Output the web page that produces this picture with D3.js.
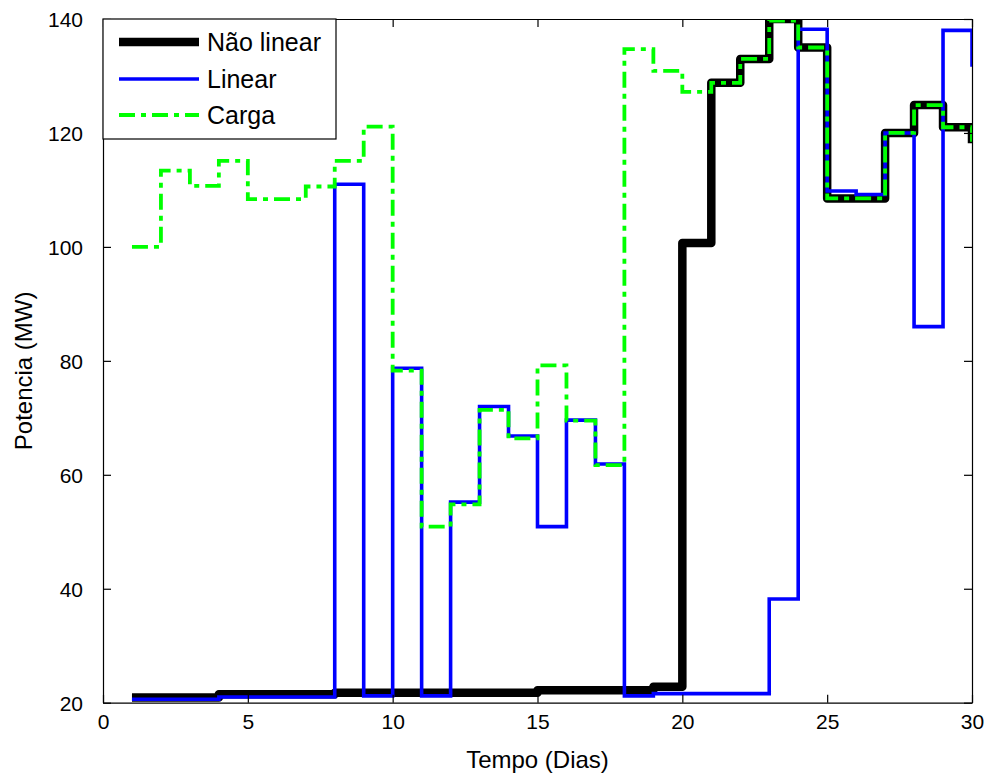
<!DOCTYPE html>
<html>
<head>
<meta charset="utf-8">
<script src="https://cdn.jsdelivr.net/npm/d3@7"></script>
<style>
  html, body { margin: 0; padding: 0; background: #fff; }
  svg { display: block; font-family: "Liberation Sans", Arial, sans-serif; }
</style>
</head>
<body>
<svg id="chart" width="988" height="774"></svg>
<script>
// ---- Data ----
const days = [1,2,3,4,5,6,7,8,9,10,11,12,13,14,15,16,17,18,19,20,21,22,23,24,25,26,27,28,29,30];
const naoLinear = [20.9,20.9,20.9,21.5,21.5,21.5,21.5,21.75,21.75,21.75,21.75,21.75,21.75,21.75,22.2,22.2,22.2,22.2,22.8,100.7,128.8,133,140,135,108.5,108.5,120,124.9,121,118.2];
const linear = [20.6,20.6,20.6,21.0,21.0,21.0,21.0,111.0,21.2,78.7,21.2,55.2,72.0,66.8,50.9,69.6,61.9,21.2,21.6,21.6,21.6,21.6,38.2,138.2,109.8,109.2,120,86,138,131.6];
const carga = [100,113.4,110.7,115.1,108.4,108.4,110.6,115.1,121.1,78.3,50.9,54.8,71.4,66.4,79.2,69.5,61.7,134.7,130.9,127.2,128.8,133,139.7,135,108.5,108.5,120,124.9,121,118.2];
const xTicks = [0,5,10,15,20,25,30];
const yTicks = [20,40,60,80,100,120,140];
const seriesNames = ["Não linear","Linear","Carga"];
const xLabel = "Tempo (Dias)";
const yLabel = "Potencia (MW)";

// ---- Layout ----
const L = 103, R = 972, T = 19, B = 702.7;
const svg = d3.select("#chart");
const x = d3.scaleLinear().domain([0,30]).range([L,R]);
const y = d3.scaleLinear().domain([20,140]).range([B,T]);

svg.append("defs").append("clipPath").attr("id","plotclip")
  .append("rect").attr("x",L).attr("y",T).attr("width",R-L).attr("height",B-T);

svg.append("rect").attr("x",L).attr("y",T).attr("width",R-L).attr("height",B-T).attr("fill","#fff");

const styles = [
  {vals: naoLinear, color:"#000000", width:8.5, dash:null},
  {vals: linear, color:"#0000ff", width:3.6, dash:null},
  {vals: carga, color:"#00ff00", width:3.8, dash:"16,6,5,6"}
];

const line = d3.line().curve(d3.curveStepAfter);
const plot = svg.append("g").attr("clip-path","url(#plotclip)");
styles.forEach(s => {
  const pts = days.map((d,i) => [x(d), y(s.vals[i])]);
  plot.append("path")
    .attr("d", line(pts))
    .attr("fill","none")
    .attr("stroke", s.color)
    .attr("stroke-width", s.width)
    .attr("stroke-linejoin", s.width > 5 ? "round" : "miter")
    .attr("stroke-linecap", "butt")
    .attr("stroke-dasharray", s.dash);
});

// ---- Axes (MATLAB-style box with inner ticks) ----
const tickLen = 8;
const axG = svg.append("g");
const xAxisB = d3.axisBottom(x).tickValues(xTicks).tickSizeInner(-tickLen).tickSizeOuter(0).tickPadding(tickLen+12);
const xAxisT = d3.axisTop(x).tickValues(xTicks).tickSizeInner(-tickLen).tickSizeOuter(0).tickFormat("");
const yAxisL = d3.axisLeft(y).tickValues(yTicks).tickSizeInner(-tickLen).tickSizeOuter(0).tickPadding(tickLen+12);
const yAxisR = d3.axisRight(y).tickValues(yTicks).tickSizeInner(-tickLen).tickSizeOuter(0).tickFormat("");

const gxb = axG.append("g").attr("transform",`translate(0,${B})`).call(xAxisB);
const gxt = axG.append("g").attr("transform",`translate(0,${T})`).call(xAxisT);
const gyl = axG.append("g").attr("transform",`translate(${L},0)`).call(yAxisL);
const gyr = axG.append("g").attr("transform",`translate(${R},0)`).call(yAxisR);
[gxb,gxt,gyl,gyr].forEach(g => {
  g.selectAll(".domain").attr("stroke","#000").attr("stroke-width",1.2);
  g.selectAll(".tick line").attr("stroke","#000").attr("stroke-width",1.2);
  g.selectAll("text").attr("fill","#000").attr("font-size","21px")
    .attr("font-family","'Liberation Sans', Arial, sans-serif");
});
gxb.selectAll("text").attr("dy","0.71em").attr("y", 11);
gyl.selectAll("text").attr("x", -20).attr("dy","0.35em");

// Axis titles
svg.append("text").attr("x", (L+R)/2).attr("y", 768)
  .attr("text-anchor","middle").attr("font-size","24px").attr("fill","#000")
  .text(xLabel);
svg.append("text").attr("transform", `translate(32,${(T+B)/2 + 10}) rotate(-90)`)
  .attr("text-anchor","middle").attr("font-size","24px").attr("fill","#000")
  .text(yLabel);

// ---- Legend ----
const lg = svg.append("g");
lg.append("rect").attr("x",L).attr("y",T).attr("width",233).attr("height",120)
  .attr("fill","#fff").attr("stroke","#000").attr("stroke-width",1.2);
const legY = [42,79,115];
styles.forEach((s,i) => {
  lg.append("line").attr("x1",119).attr("x2",199).attr("y1",legY[i]).attr("y2",legY[i])
    .attr("stroke",s.color).attr("stroke-width",s.width).attr("stroke-dasharray",s.dash);
  lg.append("text").attr("x",207).attr("y",legY[i]).attr("dy","0.36em")
    .attr("font-size","25px").attr("fill","#000").text(seriesNames[i]);
});
</script>
</body>
</html>
